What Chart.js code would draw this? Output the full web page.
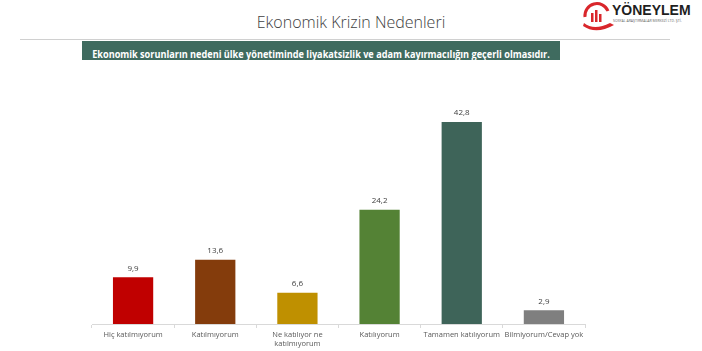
<!DOCTYPE html>
<html>
<head>
<meta charset="utf-8">
<script src="https://cdn.jsdelivr.net/npm/chart.js@4.4.1/dist/chart.umd.min.js"></script>
<style>
  body { margin: 0; background: #fff; }
  #wrap { position: relative; width: 702px; height: 351px; overflow: hidden; font-family: "Open Sans", sans-serif; }
  #title { position: absolute; left: 0; width: 702px; top: 11px; text-align: center; font-size: 16px; color: #404040; font-weight: 300; }
  #rule { position: absolute; left: 20px; width: 650px; top: 39px; height: 1px; background: #d0d0d0; }
  #banner { position: absolute; left: 82px; width: 478px; top: 41px; height: 19px; background: #3f6b5f; text-align: center; white-space: nowrap; }
  #banner span { display: inline-block; color: #fff; font-weight: bold; font-size: 10.5px; line-height: 19px; transform: scaleX(0.87); transform-origin: center; margin: 0 -60px; }
  #logo { position: absolute; left: 580px; top: 1px; width: 120px; height: 32px; }
  #brand { position: absolute; left: 612px; top: 2px; font-family: "Liberation Sans", sans-serif; font-weight: bold; font-size: 14px; color: #1f1f1f; }
  #sub { position: absolute; left: 613px; top: 18px; font-size: 3.5px; color: #666; white-space: nowrap; }
  canvas { position: absolute; left: 0; top: 0; }
</style>
</head>
<body>
<div id="wrap">
  <svg id="logo" width="120" height="32">
    <path d="M5 16 A12 12 0 0 1 28 10" stroke="#d9262b" stroke-width="3" fill="none"/>
    <rect x="11" y="12" width="2.5" height="9" fill="#d9262b"/>
    <rect x="15" y="9" width="2.5" height="12" fill="#d9262b"/>
    <rect x="19" y="13" width="2.5" height="8" fill="#d9262b"/>
    <path d="M4 22 Q14 30 30 22 L34 24 Q16 34 3 25 Z" fill="#d9262b"/>
  </svg>
  <div id="brand">YÖNEYLEM</div>
  <div id="sub">SOSYAL ARAŞTIRMALAR MERKEZİ LTD. ŞTİ.</div>
  <div id="title">Ekonomik Krizin Nedenleri</div>
  <div id="rule"></div>
  <div id="banner"><span>Ekonomik sorunların nedeni ülke yönetiminde liyakatsizlik ve adam kayırmacılığın geçerli olmasıdır.</span></div>
  <canvas id="myChart" width="702" height="351"></canvas>
</div>
<script>
(function () {
  'use strict';

  var categories = ['Hiç katılmıyorum', 'Katılmıyorum', ['Ne katılıyor ne', 'katılmıyorum'], 'Katılıyorum', 'Tamamen katılıyorum', 'Bilmiyorum/Cevap yok'];
  var values = [9.9, 13.6, 6.6, 24.2, 42.8, 2.9];
  var colors = ['#c00000', '#843c0c', '#bf9000', '#548235', '#3e6459', '#7f7f7f'];

  var valueLabels = {
    id: 'valueLabels',
    afterDatasetsDraw: function (chart) {
      var ctx = chart.ctx;
      var meta = chart.getDatasetMeta(0);
      ctx.save();
      ctx.font = '8px "Open Sans", sans-serif';
      ctx.fillStyle = '#404040';
      ctx.textAlign = 'center';
      ctx.textBaseline = 'bottom';
      meta.data.forEach(function (bar, i) {
        ctx.fillText(String(values[i]).replace('.', ','), bar.x, bar.y - 5);
      });
      ctx.restore();
    }
  };

  var ctx = document.getElementById('myChart').getContext('2d');
  var myChart = new Chart(ctx, {
    type: 'bar',
    data: {
      labels: categories,
      datasets: [{
        data: values,
        backgroundColor: colors,
        borderWidth: 0,
        categoryPercentage: 1,
        barPercentage: 0.49
      }]
    },
    options: {
      responsive: false,
      animation: false,
      layout: { padding: { left: 92, right: 117, top: 88, bottom: 0 } },
      plugins: {
        legend: { display: false },
        tooltip: { enabled: false }
      },
      scales: {
        x: {
          afterFit: function (s) { s.height = 27; },
          grid: { offset: true, drawOnChartArea: false, drawTicks: true, tickLength: 4, color: '#d9d9d9' },
          border: { display: true, color: '#d9d9d9' },
          ticks: { color: '#595959', font: { size: 7.5, family: '"Open Sans", sans-serif' }, padding: 2, maxRotation: 0, autoSkip: false }
        },
        y: {
          display: false,
          min: 0,
          max: 50
        }
      }
    },
    plugins: [valueLabels]
  });
})();
</script>
</body>
</html>
